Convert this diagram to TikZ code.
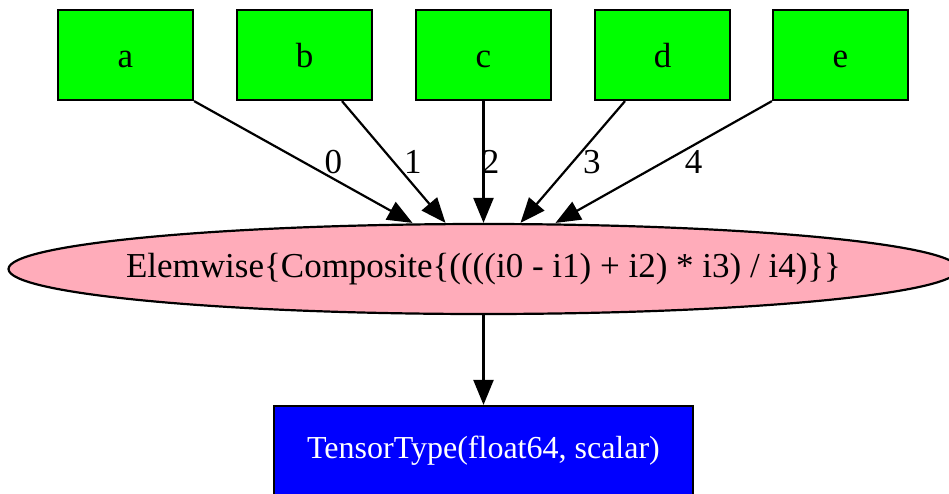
\documentclass[tikz,border=0pt]{standalone}
\usepackage{fontspec}
\setmainfont{Liberation Serif}
\usetikzlibrary{arrows.meta,shapes.geometric}
\definecolor{gvgreen}{HTML}{00FF00}
\definecolor{gvpink}{HTML}{FFACBA}
\definecolor{gvblue}{HTML}{0000FF}
\begin{document}
\begin{tikzpicture}[x=1pt,y=-1pt,
  gvfont/.style={font=\fontsize{35}{42}\selectfont},
  inbox/.style={gvfont,draw=black,line width=2.2pt,fill=gvgreen,rectangle,minimum width=135pt,minimum height=90pt,inner sep=0pt,text height=24pt,text depth=0pt},
  opnode/.style={gvfont,draw=black,line width=2.2pt,fill=gvpink,ellipse,minimum width=950pt,minimum height=90pt,inner sep=0pt},
  outbox/.style={font=\fontsize{32}{38}\selectfont,draw=black,line width=2.2pt,fill=gvblue,rectangle,minimum width=419pt,minimum height=90pt,inner sep=0pt,text=white},
  arr/.style={draw=black,line width=2.2pt,-{Triangle[length=25pt,width=20pt]}},
  lbl/.style={gvfont,inner sep=0pt}]
\useasboundingbox (0,0) rectangle (949,493);
\begin{scope}
\clip (0,0) rectangle (949,493);
\node[inbox] (a) at (125.5,55) {a};
\node[inbox] (b) at (304.5,55) {b};
\node[inbox] (c) at (483.5,55) {c};
\node[inbox] (d) at (662.5,55) {d};
\node[inbox] (e) at (840.5,55) {e};
\node[opnode] (ell) at (483.5,269) {\makebox[0pt]{Elemwise\{Composite\{((((i0 - i1) + i2) * i3) / i4)\}\}}};
\node[outbox] (t) at (483.5,451) {TensorType(float64, scalar)};
\draw[arr] (a.south east) -- node[lbl,pos=0.5,xshift=30pt]{0} ([xshift=-71pt]ell.north);
\draw[arr] ([xshift=37.5pt]b.south) -- node[lbl,pos=0.5,xshift=19pt]{1} ([xshift=-38pt]ell.north);
\draw[arr] (c.south) -- node[lbl,pos=0.5,xshift=7pt]{2} (ell.north);
\draw[arr] ([xshift=-37.5pt]d.south) -- node[lbl,pos=0.5,xshift=19pt]{3} ([xshift=37pt]ell.north);
\draw[arr] (e.south west) -- node[lbl,pos=0.5,xshift=30pt]{4} ([xshift=72pt]ell.north);
\draw[arr] (ell.south) -- (t.north);
\end{scope}
\end{tikzpicture}
\end{document}
